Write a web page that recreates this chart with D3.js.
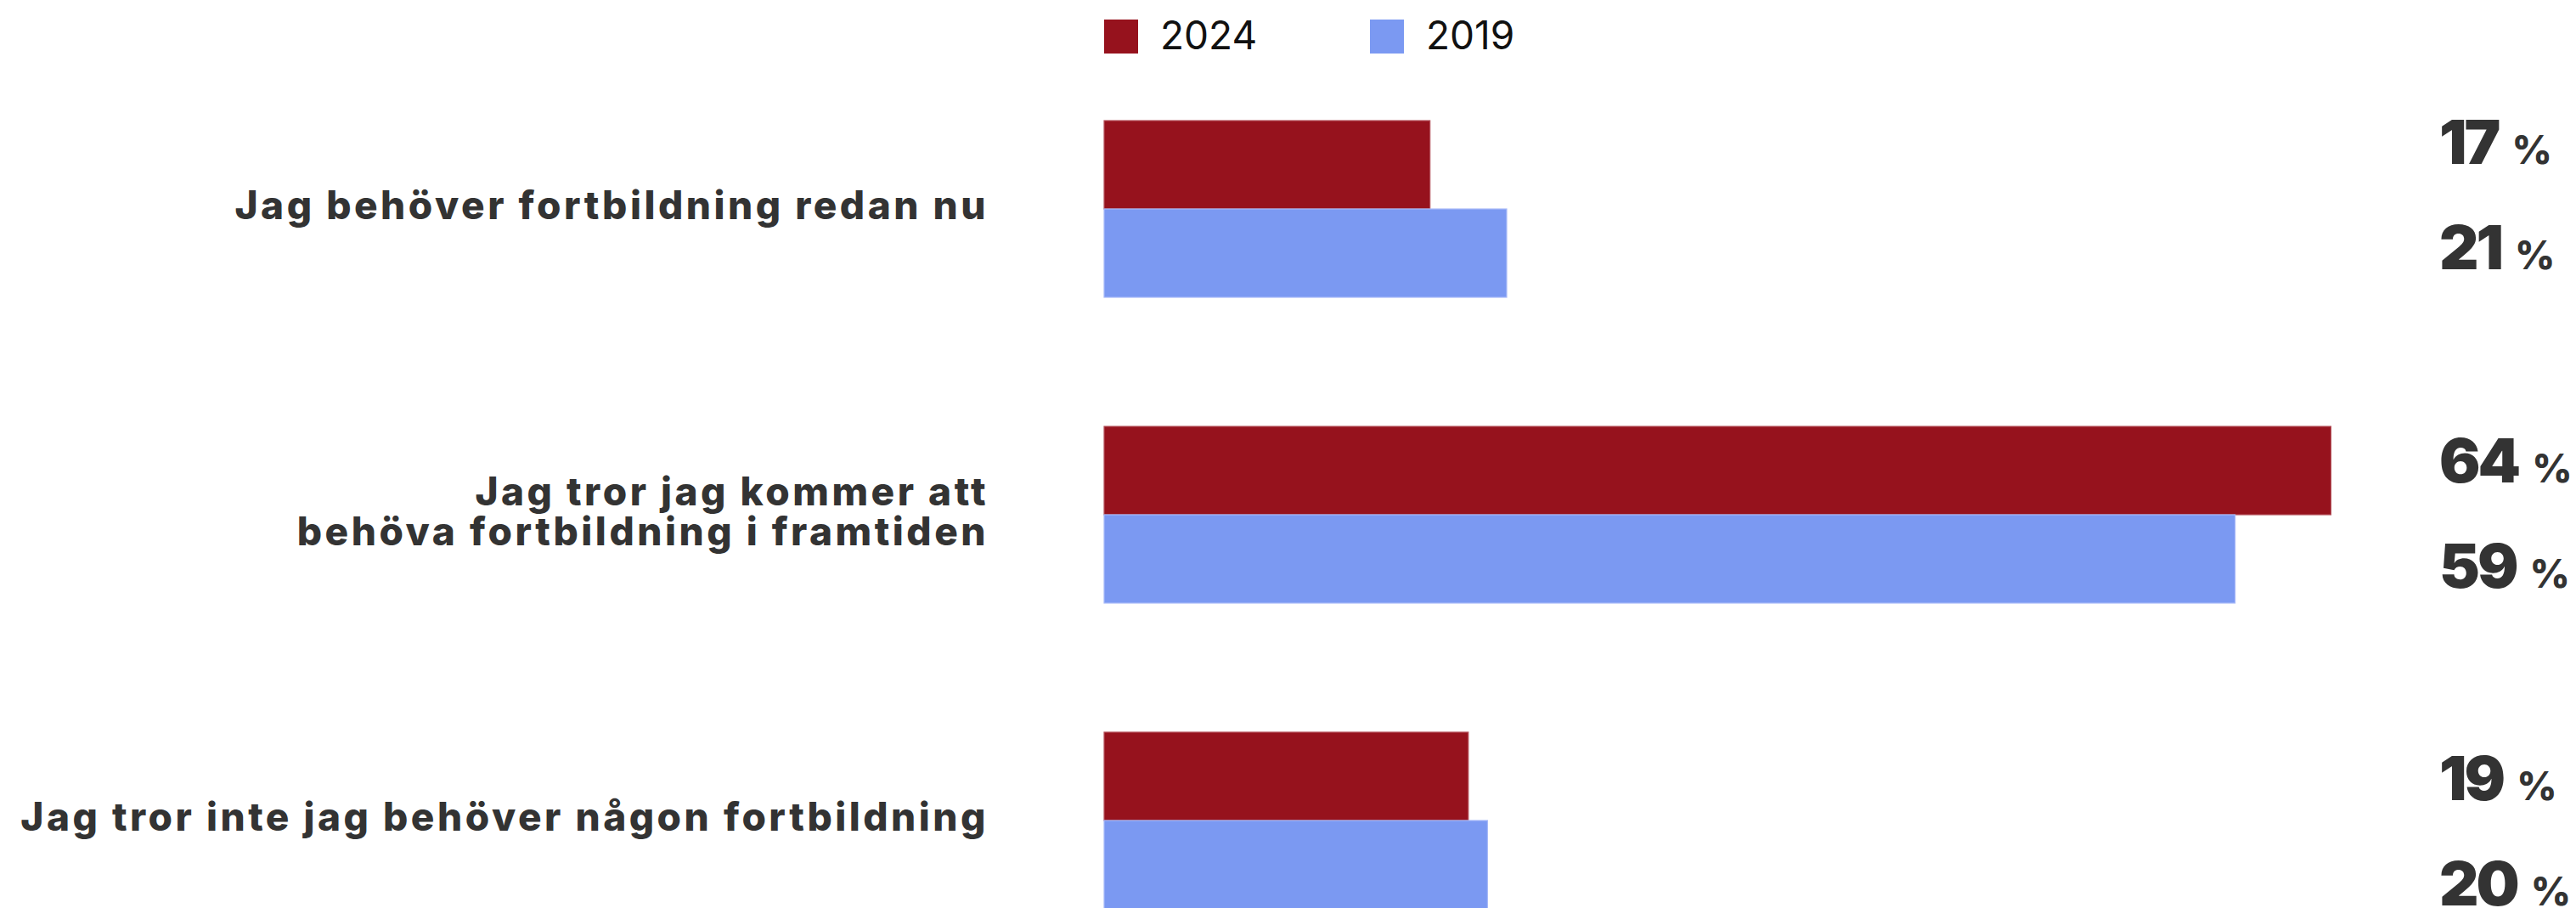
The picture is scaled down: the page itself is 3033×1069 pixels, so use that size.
<!DOCTYPE html>
<html>
<head>
<meta charset="utf-8">
<script src="https://cdn.jsdelivr.net/npm/d3@7"></script>
<style>
  html, body { margin: 0; padding: 0; background: #ffffff; }
  svg { display: block; }
</style>
</head>
<body>
<svg id="chart"></svg>
<script>
// Survey answers about the need for further training, 2024 vs 2019
const categories = [
  "Jag behöver fortbildning redan nu",
  "Jag tror jag kommer att\nbehöva fortbildning i framtiden",
  "Jag tror inte jag behöver någon fortbildning"
];
const seriesNames = ["2024", "2019"];
const values2024 = [17, 64, 19];
const values2019 = [21, 59, 20];
const seriesColors = ["#96121d", "#7b99f2"];
const seriesStrokes = ["#b4505a", "#a7b9f8"];

const W = 3033, H = 1069;
const svg = d3.select("#chart").attr("width", W).attr("height", H);

const rows = categories.map((c, i) => ({
  category: c,
  values: [
    { series: seriesNames[0], value: values2024[i] },
    { series: seriesNames[1], value: values2019[i] }
  ]
}));

// Scales
const x = d3.scaleLinear().domain([0, 100]).range([1300, 3557]);
const y0 = d3.scaleBand().domain(categories).range([142, 1070]).paddingInner(0.4222).paddingOuter(0);
const y1 = d3.scaleBand().domain(seriesNames).range([0, y0.bandwidth()]).padding(0);
const color = d3.scaleOrdinal().domain(seriesNames).range(seriesColors);
const stroke = d3.scaleOrdinal().domain(seriesNames).range(seriesStrokes);
// Value labels sit on their own evenly spaced rows at the right edge
const yValue = d3.scalePoint().domain(categories).range([193, 942]);
const valueRowGap = 124;

// Bars
const groups = svg.append("g").selectAll("g")
  .data(rows).join("g")
  .attr("transform", d => `translate(0,${y0(d.category)})`);

groups.selectAll("rect")
  .data(d => d.values).join("rect")
  .attr("x", x(0))
  .attr("y", d => y1(d.series))
  .attr("width", d => x(d.value) - x(0))
  .attr("height", y1.bandwidth())
  .attr("fill", d => color(d.series))
  .attr("stroke", d => stroke(d.series))
  .attr("stroke-width", 1.2);

// Category labels, right aligned left of the bars
const labelRight = 1164;
const lineH = 47;
svg.append("g").selectAll("text")
  .data(rows).join("text")
  .attr("text-anchor", "end")
  .attr("font-family", "Inter, 'Noto Sans', sans-serif")
  .attr("font-weight", 800)
  .attr("font-size", 46)
  .attr("letter-spacing", 3.5)
  .attr("fill", "#333333")
  .each(function(d) {
    const lines = d.category.split("\n");
    const mid = y0(d.category) + y0.bandwidth() / 2 + 12;
    const first = mid - (lines.length - 1) * lineH / 2;
    d3.select(this).selectAll("tspan")
      .data(lines).join("tspan")
      .attr("x", labelRight)
      .attr("y", (l, i) => first + i * lineH)
      .text(l => l);
  });

// Value labels
const valueX = 2872;
const vg = svg.append("g").attr("font-family", "Inter, 'Noto Sans', sans-serif").attr("fill", "#333333");
rows.forEach(r => {
  r.values.forEach((v, j) => {
    const t = vg.append("text")
      .attr("x", valueX)
      .attr("y", yValue(r.category) + j * valueRowGap);
    t.append("tspan")
      .attr("font-size", 72)
      .attr("font-weight", 900)
      .attr("letter-spacing", -3)
      .text(v.value);
    t.append("tspan")
      .attr("dx", 16)
      .attr("font-size", 46)
      .attr("font-weight", 800)
      .text("%");
  });
});

// Legend
const legendX = [1300, 1613];
const legend = svg.append("g").selectAll("g")
  .data(seriesNames).join("g")
  .attr("transform", (d, i) => `translate(${legendX[i]},23)`);
legend.append("rect")
  .attr("width", 40).attr("height", 40)
  .attr("fill", d => color(d));
legend.append("text")
  .attr("x", 66).attr("y", 35)
  .attr("font-family", "Inter, 'Noto Sans', sans-serif")
  .attr("font-size", 46)
  .attr("font-weight", 400)
  .attr("fill", "#111111")
  .text(d => d);
</script>
</body>
</html>
